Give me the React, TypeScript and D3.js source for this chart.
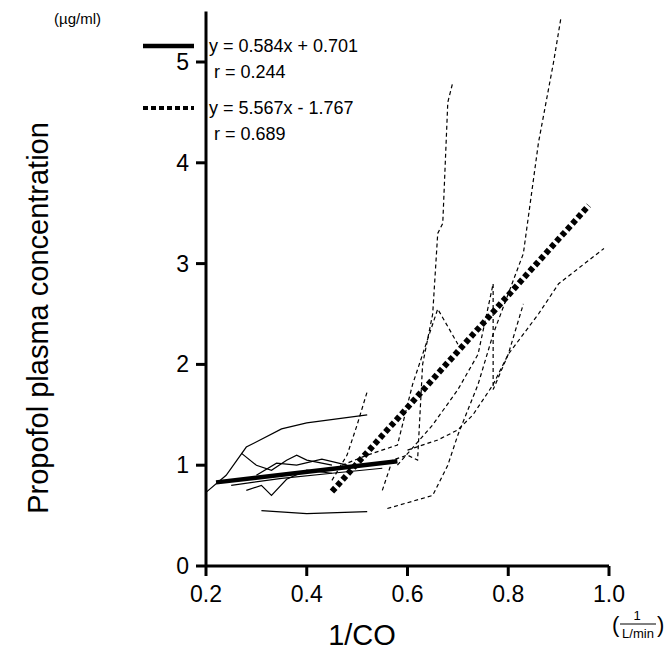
import React, { useRef, useEffect } from "react";
import * as d3 from "d3";

type Pt = [number, number];

const xTicks = [0.2, 0.4, 0.6, 0.8, 1.0];
const yTicks = [0, 1, 2, 3, 4, 5];

// individual patients, group 1 (solid)
const solidSeries: Pt[][] = [
  [[0.2, 0.73], [0.24, 0.9], [0.28, 1.18], [0.35, 1.36], [0.4, 1.42], [0.52, 1.5]],
  [[0.31, 0.55], [0.4, 0.52], [0.52, 0.54]],
  [[0.27, 1.12], [0.3, 1.0], [0.33, 0.95], [0.36, 1.05], [0.38, 1.1], [0.4, 1.05], [0.45, 1.0]],
  [[0.28, 0.75], [0.31, 0.8], [0.33, 0.7], [0.36, 0.86], [0.4, 0.95], [0.45, 0.92]],
  [[0.25, 0.8], [0.35, 0.87], [0.45, 0.92], [0.55, 0.97]],
  [[0.3, 0.9], [0.34, 1.02], [0.38, 1.0], [0.43, 1.06], [0.48, 1.0]],
];

// individual patients, group 2 (dashed)
const dashedSeries: Pt[][] = [
  [[0.56, 0.57], [0.65, 0.7], [0.68, 1.0], [0.7, 1.3], [0.74, 1.8], [0.77, 2.3], [0.8, 2.7], [0.83, 3.1], [0.86, 4.2], [0.89, 5.0], [0.905, 5.45]],
  [[0.55, 0.75], [0.57, 1.05], [0.6, 1.1], [0.62, 1.05], [0.63, 2.0], [0.65, 2.5], [0.66, 3.3], [0.67, 3.4], [0.68, 4.6], [0.69, 4.8]],
  [[0.47, 1.0], [0.52, 1.1], [0.58, 1.2], [0.61, 1.8], [0.63, 2.1], [0.66, 2.55], [0.7, 2.2]],
  [[0.6, 1.15], [0.66, 1.25], [0.7, 1.35], [0.73, 1.5], [0.77, 1.8], [0.8, 2.1], [0.86, 2.5], [0.9, 2.8], [0.99, 3.15]],
  [[0.58, 1.0], [0.65, 1.4], [0.7, 1.75], [0.74, 2.1], [0.77, 2.8], [0.77, 1.75], [0.8, 2.1], [0.83, 2.6]],
  [[0.45, 0.85], [0.48, 1.1], [0.5, 1.4], [0.52, 1.73]],
];

const fit1 = { slope: 0.584, intercept: 0.701, from: 0.22, to: 0.58 };
const fit2 = { slope: 5.567, intercept: -1.767, from: 0.45, to: 0.96 };

const App = () => {
  const ref = useRef<SVGSVGElement | null>(null);

  useEffect(() => {
    if (!ref.current) return;
    const svg = d3.select(ref.current);
    svg.selectAll("*").remove();
    const font = "Liberation Sans, Arial, sans-serif";

    const x = d3.scaleLinear().domain([0.2, 1.0]).range([206, 609]);
    const y = d3.scaleLinear().domain([0, 5]).range([566, 62]);
    const line = d3.line<Pt>().x((d) => x(d[0])).y((d) => y(d[1]));

    const ax = svg.append("g").attr("stroke", "#000").attr("stroke-width", 3);
    ax.append("line").attr("x1", x(0.2)).attr("x2", x(1.0)).attr("y1", y(0)).attr("y2", y(0));
    ax.append("line").attr("x1", x(0.2)).attr("x2", x(0.2)).attr("y1", y(0)).attr("y2", y(5.5));
    xTicks.forEach((t) =>
      ax.append("line").attr("x1", x(t)).attr("x2", x(t)).attr("y1", y(0)).attr("y2", y(0) + 10)
    );
    yTicks.forEach((t) =>
      ax.append("line").attr("x1", x(0.2) - 10).attr("x2", x(0.2)).attr("y1", y(t)).attr("y2", y(t))
    );

    const txt = svg.append("g").attr("font-family", font).attr("fill", "#000");
    xTicks.forEach((t) =>
      txt.append("text").attr("x", x(t)).attr("y", 602).attr("text-anchor", "middle")
        .attr("font-size", 23).text(t.toFixed(1))
    );
    yTicks.forEach((t) =>
      txt.append("text").attr("x", x(0.2) - 17).attr("y", y(t) + 8).attr("text-anchor", "end")
        .attr("font-size", 23).text(String(t))
    );
    txt.append("text").attr("x", 54).attr("y", 24).attr("font-size", 15).text("(µg/ml)");
    txt.append("text").attr("transform", "translate(48,318) rotate(-90)").attr("text-anchor", "middle")
      .attr("font-size", 29).text("Propofol plasma concentration");
    txt.append("text").attr("x", 362).attr("y", 645).attr("text-anchor", "middle")
      .attr("font-size", 29).text("1/CO");
    // unit (1 / L/min)
    txt.append("text").attr("x", 612).attr("y", 632).attr("font-size", 22).text("(");
    txt.append("text").attr("x", 657).attr("y", 632).attr("font-size", 22).text(")");
    txt.append("text").attr("x", 637).attr("y", 620).attr("text-anchor", "middle").attr("font-size", 13).text("1");
    txt.append("line").attr("x1", 620).attr("x2", 656).attr("y1", 624).attr("y2", 624).attr("stroke", "#000").attr("stroke-width", 1);
    txt.append("text").attr("x", 638).attr("y", 638).attr("text-anchor", "middle").attr("font-size", 13).text("L/min");

    const g = svg.append("g").attr("fill", "none").attr("stroke", "#000");
    solidSeries.forEach((s) => g.append("path").attr("d", line(s)).attr("stroke-width", 1.2));
    dashedSeries.forEach((s) =>
      g.append("path").attr("d", line(s)).attr("stroke-width", 1.2).attr("stroke-dasharray", "4,3")
    );
    const fitPts = (f: typeof fit1): Pt[] => [
      [f.from, f.slope * f.from + f.intercept],
      [f.to, f.slope * f.to + f.intercept],
    ];
    g.append("path").attr("d", line(fitPts(fit1))).attr("stroke-width", 4.5);
    g.append("path").attr("d", line(fitPts(fit2))).attr("stroke-width", 6).attr("stroke-dasharray", "5,3");

    // legend
    const lg = svg.append("g").attr("font-family", font).attr("font-size", 18);
    lg.append("line").attr("x1", 143).attr("x2", 194).attr("y1", 46).attr("y2", 46).attr("stroke", "#000").attr("stroke-width", 4.5);
    lg.append("text").attr("x", 209).attr("y", 52).text("y = 0.584x + 0.701");
    lg.append("text").attr("x", 214).attr("y", 78).text("r = 0.244");
    lg.append("line").attr("x1", 143).attr("x2", 194).attr("y1", 108).attr("y2", 108).attr("stroke", "#000")
      .attr("stroke-width", 4).attr("stroke-dasharray", "5,3");
    lg.append("text").attr("x", 209).attr("y", 114).text("y = 5.567x - 1.767");
    lg.append("text").attr("x", 214).attr("y", 140).text("r = 0.689");
  }, []);

  return (
    <svg ref={ref} width={667} height={650} viewBox="0 0 667 650"
      style={{ position: "absolute", left: 0, top: 0, background: "#fff" }} />
  );
};

export default App;
